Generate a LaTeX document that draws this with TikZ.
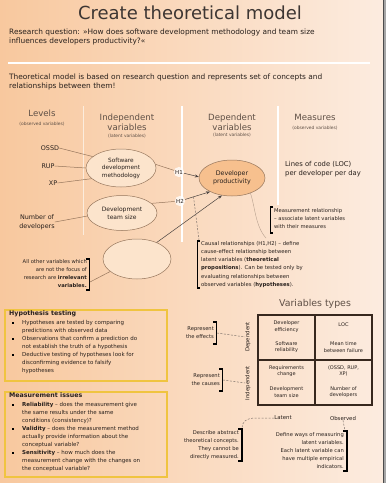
\documentclass[tikz,border=0pt]{standalone}
\usepackage{fontspec}
\setmainfont{DejaVu Sans}
\usetikzlibrary{arrows.meta,shapes.geometric,calc}

\definecolor{bgL}{RGB}{248,200,158}
\definecolor{bgR}{RGB}{252,236,224}
\definecolor{ink}{RGB}{40,32,28}
\definecolor{hdr}{RGB}{95,80,70}
\definecolor{edge}{RGB}{150,118,92}
\definecolor{dpfill}{RGB}{247,192,142}
\definecolor{elfill}{RGB}{252,228,204}
\definecolor{gold}{RGB}{240,196,64}
\definecolor{tbl}{RGB}{55,40,30}

\newcommand{\fsz}[2]{\fontsize{#1}{#2}\selectfont}

\begin{document}
\begin{tikzpicture}[x=1pt,y=-1pt,
  hdrtxt/.style={text=hdr, inner sep=0pt, align=center, font=\fsz{8.6}{10}},
  subhdr/.style={text=hdr, inner sep=0pt, font=\fsz{4.4}{6}},
  level/.style={text=ink, inner sep=0pt, align=center, font=\fsz{6.4}{8.5}},
  latent/.style={ellipse, draw=edge, line width=0.5pt, inner sep=0pt, align=center, text=ink, fill=elfill},
  link/.style={draw=edge, line width=0.5pt},
  arr/.style={draw=ink!85, line width=0.5pt, -{Stealth[length=4pt,width=3pt]}},
  brk/.style={draw=black, line width=1.1pt},
  dashlink/.style={draw=hdr!80, line width=0.5pt, dashed, dash pattern=on 2pt off 1.5pt},
  note/.style={text=ink, inner sep=0pt, font=\fsz{5.2}{8.2}},
  hyp/.style={text=ink, inner sep=0pt, align=left, anchor=north west, font=\fsz{5.5}{8}},
  bul/.style={fill=black, minimum size=2pt, inner sep=0pt},
  cell/.style={draw=tbl, line width=1.2pt, minimum width=57pt, minimum height=45pt, inner sep=0pt},
  celltxt/.style={text=ink, inner sep=0pt, align=center, font=\fsz{5}{6.5}},
  boxframe/.style={draw=gold, line width=1.1pt},
  hnode/.style={circle, fill=white, fill opacity=0.75, text opacity=1, inner sep=0.6pt, text=ink, font=\fsz{5.5}{6}}
]
\path[use as bounding box] (0,0) rectangle (386,483);

% background
\shade[left color=bgL, right color=bgR] (0,0) rectangle (386,483);
\fill[gray!70] (383,0) rectangle (386,483);
\draw[black!70, line width=1.2pt] (383.5,0) -- (383.5,483);

% heading and introduction
\node[text=ink!90, inner sep=0pt, font=\fsz{18}{20}] (title) at (190,13) {Create theoretical model};
\node[anchor=north west, inner sep=0pt, align=left, text=ink, font=\fsz{7.4}{9}] (rq) at (9,29)
  {Research question: »How does software development methodology and team size\\influences developers productivity?«};
\draw[white, line width=1.2pt] (8,63) -- (370,63);
\node[anchor=north west, inner sep=0pt, align=left, text=ink, font=\fsz{7.4}{9}] (intro) at (9,74)
  {Theoretical model is based on research question and represents set of concepts and\\relationships between them!};

% column separators
\draw[white, line width=0.9pt, opacity=0.6] (83,106) -- (83,235);
\draw[white, line width=1.1pt] (182,106) -- (182,242);
\draw[white, line width=1.1pt] (278,106) -- (278,205);

% column headers
\node[hdrtxt] (levels) at (42,113) {Levels};
\node[subhdr] (levelsub) at (42,124) {(observed variables)};
\node[hdrtxt] (indep) at (127,122) {Independent\\variables};
\node[subhdr] (indepsub) at (127,136) {(latent variables)};
\node[hdrtxt] (dep) at (232,122) {Dependent\\variables};
\node[subhdr] (depsub) at (232,135) {(latent variables)};
\node[hdrtxt] (meas) at (315,117) {Measures};
\node[subhdr] (meassub) at (315,128) {(observed variables)};

% levels and measures
\node[level] (ossd) at (50,148) {OSSD};
\node[level] (rup) at (48,166) {RUP};
\node[level] (xp) at (53,183) {XP};
\node[level] (ndev) at (37,222) {Number of\\developers};
\node[anchor=west, inner sep=0pt, align=left, text=ink, font=\fsz{6.8}{9.5}] (loc) at (285,169)
  {Lines of code (LOC)\\per developer per day};

% latent variables
\node[latent, minimum width=70pt, minimum height=38pt, font=\fsz{5.8}{7.5}] (sdm) at (121,168)
  {Software\\development\\methodology};
\node[latent, minimum width=70pt, minimum height=35pt, font=\fsz{6}{8}] (dts) at (122,213)
  {Development\\team size};
\node[latent, minimum width=68pt, minimum height=40pt] (other) at (137,259) {};
\node[latent, fill=dpfill, minimum width=66pt, minimum height=36pt, font=\fsz{6.3}{8.5}] (dp) at (232,178)
  {Developer\\productivity};

% observed levels to latent variables
\draw[link] (ossd.east) -- (sdm.158);
\draw[link] (rup.east) -- (sdm.west);
\draw[link] (xp.east) -- (sdm.200);
\draw[link] (ndev.east) -- (dts.185);

% hypotheses
\node[hnode] (h1) at (179,172) {H1};
\node[hnode] (h2) at (180,201) {H2};
\draw[link] (sdm.6) -- (h1);
\draw[arr] (h1) -- (dp.178);
\draw[link] (dts.18) -- (h2);
\draw[arr] (h2) -- (dp.212);
\draw[arr] (other.40) -- (dp.240);
\coordinate (h2mid) at ($(h2)!0.45!(dp.212)$);

% measurement relationship note
\draw[edge!70, line width=0.4pt] (250,192) .. controls (255,205) and (255,226) .. (266,238);
\node[note, anchor=north west, align=left] (mnote) at (274,208)
  {Measurement relationship\\– associate latent variables\\with their measures};
\draw[brk] (273,207) -- (270.5,207) -- (270.5,233) -- (273,233);

% causal relationships note
\node[note, anchor=north west, align=left, font=\fsz{5.3}{8.2}] (cnote) at (201,241)
  {Causal relationships (H1,H2) – define\\cause-effect relationship between\\latent variables (\textbf{theoretical}\\\textbf{propositions}). Can be tested only by\\evaluating relationships between\\observed variables (\textbf{hypotheses}).};
\draw[brk] (200,241) -- (197.5,241) -- (197.5,288) -- (200,288);
\coordinate (cnotetop) at (199,240);
\draw[dashlink] (h2mid) -- (cnotetop);

% irrelevant variables note
\node[note, anchor=north east, align=right] (inote) at (87,259)
  {All other variables which\\are not the focus of\\research are \textbf{irrelevant}\\\textbf{variables.}};
\draw[brk] (86,259) -- (89.5,259) -- (89.5,290) -- (86,290);
\coordinate (inoteend) at (90,282);
\draw[link] (other.205) -- (inoteend);

% hypothesis testing box
\draw[boxframe] (5,310) rectangle (167,381);
\node[hyp, font=\bfseries\fsz{6.3}{8}] (htitle) at (9,311) {Hypothesis testing};
\node[bul] (b1) at (13,323) {};
\node[hyp] (ht1) at (22,320) {Hypotheses are tested by comparing\\predictions with observed data};
\node[bul] (b2) at (13,339) {};
\node[hyp] (ht2) at (22,336) {Observations that confirm a prediction do\\not establish the truth of a hypothesis};
\node[bul] (b3) at (13,355) {};
\node[hyp] (ht3) at (22,352) {Deductive testing of hypotheses look for\\disconfirming evidence to falsify\\hypotheses};

% measurement issues box
\draw[boxframe] (5,392) rectangle (167,477);
\node[hyp, font=\bfseries\fsz{6.3}{8}] (mtitle) at (9,393) {Measurement issues};
\node[bul] (m1) at (13,405) {};
\node[hyp] (mt1) at (22,402) {\textbf{Reliability} – does the measurement give\\the same results under the same\\conditions (consistency)?};
\node[bul] (m2) at (13,429) {};
\node[hyp] (mt2) at (22,426) {\textbf{Validity} – does the measurement method\\actually  provide information about the\\conceptual variable?};
\node[bul] (m3) at (13,453) {};
\node[hyp] (mt3) at (22,450) {\textbf{Sensitivity} – how much does the\\measurement change with the changes on\\the conceptual variable?};

% variables types table
\node[text=hdr, inner sep=0pt, font=\fsz{9.4}{11}] (vtypes) at (315,304) {Variables types};
\node[cell] (c11) at (286.5,337.5) {};
\node[cell] (c12) at (343.5,337.5) {};
\node[cell] (c21) at (286.5,382.5) {};
\node[cell] (c22) at (343.5,382.5) {};
\node[celltxt] (t11a) at (286.5,326.5) {Developer\\efficiency};
\node[celltxt] (t11b) at (286.5,347) {Software\\reliability};
\node[celltxt] (t12a) at (343.5,325) {LOC};
\node[celltxt] (t12b) at (343.5,347) {Mean time\\between failure};
\node[celltxt] (t21a) at (286.5,371) {Requirements\\change};
\node[celltxt] (t21b) at (286.5,392) {Development\\team size};
\node[celltxt] (t22a) at (343.5,371) {(OSSD, RUP,\\XP)};
\node[celltxt] (t22b) at (343.5,392) {Number of\\developers};

\node[rotate=90, text=ink, inner sep=0pt, font=\fsz{5.4}{6}] (deplab) at (248,337) {Dependent};
\node[rotate=90, text=ink, inner sep=0pt, font=\fsz{5.4}{6}] (indlab) at (248,383) {Independent};

\node[note, anchor=east, align=right] (effects) at (214,333) {Represent\\the effects};
\draw[brk] (213,322) -- (216.5,322) -- (216.5,344) -- (213,344);
\coordinate (effb) at (217,333);
\draw[dashlink] (effb) -- (deplab.north);

\node[note, anchor=east, align=right] (causes) at (220,380) {Represent\\the causes};
\draw[brk] (219,369) -- (222.5,369) -- (222.5,391) -- (219,391);
\coordinate (caub) at (223,380);
\draw[dashlink] (caub) -- (indlab.north);

% latent and observed
\node[text=ink, inner sep=0pt, font=\fsz{5.4}{6}] (lat) at (283,418) {Latent};
\node[text=ink, inner sep=0pt, font=\fsz{5.4}{6}] (obs) at (343,418) {Observed};
\node[note, anchor=north east, align=right] (dnote) at (239,430)
  {Describe abstract\\theoretical concepts.\\They cannot be\\directly measured.};
\draw[brk] (238,429) -- (242,429) -- (242,461) -- (238,461);
\coordinate (dtop) at (242,428);
\draw[dashlink] (lat.west) -- (256,418) .. controls (246,418) and (242,422) .. (dtop);

\node[note, anchor=north east, align=right] (onote) at (344,432)
  {Define ways of measuring\\latent variables.\\Each latent variable can\\have multiple empirical\\indicators.};
\draw[brk] (343,431) -- (347,431) -- (347,471) -- (343,471);
\coordinate (otop) at (345,431);
\draw[dashlink] (obs.south) -- (otop);

\end{tikzpicture}
\end{document}
